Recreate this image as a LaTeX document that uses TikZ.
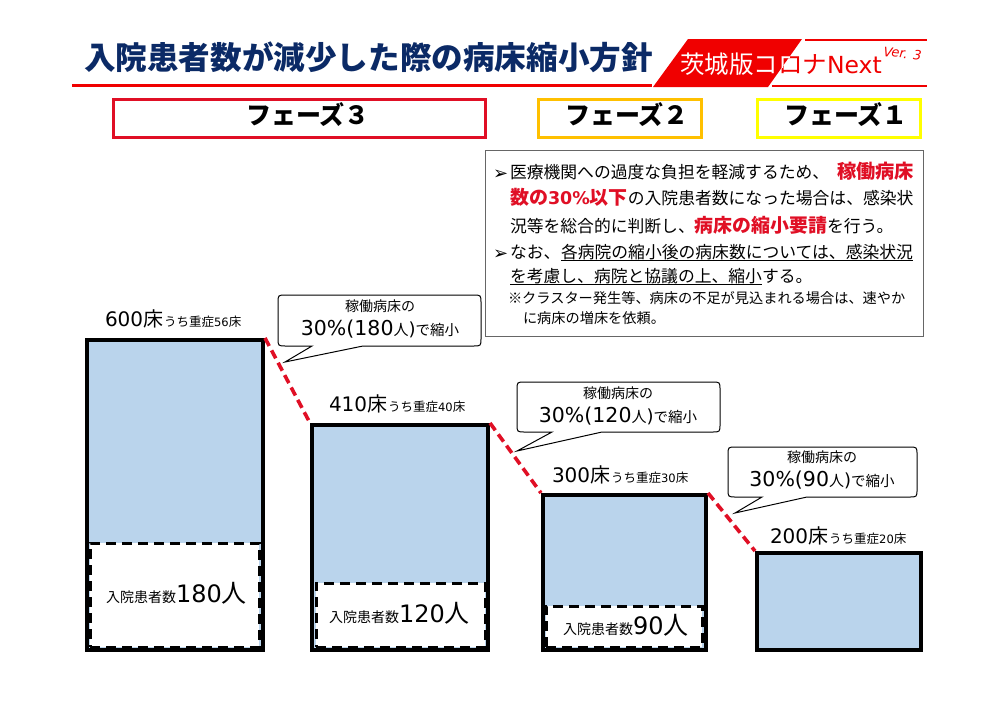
\documentclass[tikz,border=0pt]{standalone}
\usepackage{fontspec}
\setmainfont{Noto Sans CJK JP}
\newfontfamily\lat{DejaVu Sans}
\usetikzlibrary{calc}
\newcommand{\fsz}[1]{\fontsize{#1}{#1}\selectfont}
\definecolor{navy}{HTML}{0B2A66}
\definecolor{rd}{HTML}{F00000}
\definecolor{crim}{HTML}{E00F25}
\definecolor{barblue}{HTML}{BAD4EC}
\definecolor{amber}{HTML}{FFC000}
\definecolor{yel}{HTML}{FFFF00}
\tikzset{
 txt/.style={inner sep=0pt,outer sep=0pt,anchor=base west,text=black},
 body/.style={txt,font=\fsz{16.8}},
 note/.style={txt,font=\fsz{14.2}},
 phasebox/.style={draw=#1,line width=3pt,fill=white,inner sep=0pt},
 phasetxt/.style={txt,font=\fsz{25}\bfseries},
 barbox/.style={draw=black,line width=4pt,fill=barblue,inner sep=0pt},
 patbox/.style={draw=black,line width=3pt,dash pattern=on 10pt off 6pt,fill=white,inner sep=0pt},
 drop/.style={draw=crim,line width=3.6pt,dash pattern=on 9pt off 5pt},
 ul/.style={draw=black,line width=1pt},
 callout/.style={draw=black,line width=1pt,fill=white},
 calltop/.style={inner sep=0pt,font=\fsz{14}},
 callmain/.style={txt,anchor=base},
}
\newcommand{\bedlabel}[5]{% name, x, y, number, rest
 \node[txt] (#1) at (#2,#3) {\fsz{20}\lat #4\fsz{20}\normalfont 床\hspace{1pt}\fsz{12.5}うち重症{\fsz{11.5}\lat #5}床};}
\newcommand{\patlabel}[4]{% name, x, y, number
 \node[txt] (#1) at (#2,#3) {\fsz{14}入院患者数{\fsz{24}\lat #4}\fsz{25}人};}
\newcommand{\balloon}[8]{% x1 y1 x2 y2 tail1 tipx tipy tail2
 \path[callout] (#1,#2+8) .. controls (#1,#2) .. (#1+8,#2) -- (#3-8,#2) .. controls (#3,#2) .. (#3,#2+8)
  -- (#3,#4-8) .. controls (#3,#4) .. (#3-8,#4) -- (#8,#4) -- (#6,#7) -- (#5,#4) -- (#1+8,#4) .. controls (#1,#4) .. (#1,#4-8) -- cycle;}
\begin{document}
\begin{tikzpicture}[x=1pt,y=-1pt]
\useasboundingbox[fill=white] (0,0) rectangle (1000,707);

% title
\node[txt,text=navy,font=\fsz{31.6}\bfseries] (title) at (84,69) {入院患者数が減少した際の病床縮小方針};
\coordinate (tl1) at (72,85.5);
\coordinate (tl2) at (652,85.5);
\draw[rd,line width=2.6pt] (tl1) -- (tl2);

% banner
\fill[rd] (688,39) -- (802,39) -- (768,87) -- (653,87) -- cycle;
\coordinate (bt1) at (805,40); \coordinate (bt2) at (927,40);
\coordinate (bb1) at (772,86); \coordinate (bb2) at (927,86);
\draw[rd,line width=2pt] (bt1) -- (bt2);
\draw[rd,line width=2pt] (bb1) -- (bb2);
\node[txt,text=white,font=\fsz{24.5}] (ban1) at (680,73) {茨城版コ};
\node[txt,text=rd,font=\fsz{24.5},anchor=base west] (ban2) at (ban1.base east) {ロナ{\lat\fsz{23.5}Next}};
\begin{scope}
\clip (688,39) -- (802,39) -- (768,87) -- (653,87) -- cycle;
\node[txt,text=white,font=\fsz{24.5},anchor=base west] (ban3) at (ban1.base east) {ロ};
\end{scope}
\node[txt,text=rd,font=\fsz{13}\lat\itshape,rotate=-6] (ver) at (883,56) {Ver. 3};

% phases
\node[phasebox=crim,minimum width=372pt,minimum height=38pt] (p3) at (299.5,118) {};
\node[phasebox=amber,minimum width=163pt,minimum height=38pt] (p2) at (620,118) {};
\node[phasebox=yel,minimum width=163pt,minimum height=38pt] (p1) at (839,118) {};
\node[phasetxt] (p3t) at (246,124.5) {フェーズ３};
\node[phasetxt] (p2t) at (565,124.5) {フェーズ２};
\node[phasetxt] (p1t) at (784,124.5) {フェーズ１};

% text box
\node[draw=black!60,line width=1.4pt,fill=white,inner sep=0pt,minimum width=438pt,minimum height=186pt] (tb) at (704.5,243.5) {};
\node[txt,font=\fsz{18}\lat] (bu1) at (493,179) {➢};
\node[body] (l1) at (510,178) {医療機関への過度な負担を軽減するため、\hspace{8pt}{\color{crim}\fsz{19.2}\bfseries 稼働病床}};
\node[body] (l2) at (510,204) {{\color{crim}\fsz{19}\bfseries 数の{\lat\fsz{17.5}30\%}以下}の入院患者数になった場合は、感染状};
\node[body] (l3) at (510,232) {況等を総合的に判断し、{\color{crim}\fsz{18.9}\bfseries 病床の縮小要請}を行う。};
\node[txt,font=\fsz{18}\lat] (bu2) at (493,259) {➢};
\node[body] (l4a) at (510,258) {なお、};
\node[body,anchor=base west] (l4b) at (561,258) {各病院の縮小後の病床数については、感染状況};
\draw[ul] ($(l4b.base west)+(0,2.5)$) -- ($(l4b.base east)+(0,2.5)$);
\node[body] (l5a) at (510,282) {を考慮し、病院と協議の上、縮小};
\node[body,anchor=base west] (l5b) at (l5a.base east) {する。};
\draw[ul] ($(l5a.base west)+(0,2.5)$) -- ($(l5a.base east)+(0,2.5)$);
\node[note] (n1) at (508,303) {※クラスター発生等、病床の不足が見込まれる場合は、速やか};
\node[note] (n2) at (523,323) {に病床の増床を依頼。};

% bars
\node[barbox,minimum width=176pt,minimum height=310pt] (b1) at (175,495) {};
\node[barbox,minimum width=176pt,minimum height=225pt] (b2) at (400,537.5) {};
\node[barbox,minimum width=163pt,minimum height=155pt] (b3) at (624.5,572.5) {};
\node[barbox,minimum width=164pt,minimum height=97pt] (b4) at (839,601.5) {};

\node[patbox,minimum width=169pt,minimum height=104pt] (d1) at (174.5,595) {};
\node[patbox,minimum width=169pt,minimum height=64pt] (d2) at (400.5,615) {};
\node[patbox,minimum width=156pt,minimum height=41pt] (d3) at (624,626.5) {};

\patlabel{pl1}{106}{602}{180}
\patlabel{pl2}{329}{622}{120}
\patlabel{pl3}{563}{634}{90}

\bedlabel{bl1}{105}{326}{600}{56}
\bedlabel{bl2}{329}{411}{410}{40}
\bedlabel{bl3}{552}{482}{300}{30}
\bedlabel{bl4}{770}{543}{200}{20}

% drops
\draw[drop] (b1.north east) -- (b2.north west);
\draw[drop] (b2.north east) -- (b3.north west);
\draw[drop] (b3.north east) -- (b4.north west);

% callouts
\balloon{278}{295}{481}{346}{312}{285}{362}{363}
\node[calltop] (c1a) at (380,306) {稼働病床の};
\node[callmain] (c1b) at (380,335) {{\lat\fsz{20.5}30\%(180}\fsz{15}人{\lat\fsz{18})}\fsz{14.5}で縮小};
\balloon{517}{382}{720}{432}{552}{517}{451}{602}
\node[calltop] (c2a) at (618,393) {稼働病床の};
\node[callmain] (c2b) at (618,422) {{\lat\fsz{20.5}30\%(120}\fsz{15}人{\lat\fsz{18})}\fsz{14.5}で縮小};
\balloon{728}{447}{917}{497}{762}{735}{513}{807}
\node[calltop] (c3a) at (822,457) {稼働病床の};
\node[callmain] (c3b) at (822,486) {{\lat\fsz{20.5}30\%(90}\fsz{15}人{\lat\fsz{18})}\fsz{14.5}で縮小};
\end{tikzpicture}
\end{document}
